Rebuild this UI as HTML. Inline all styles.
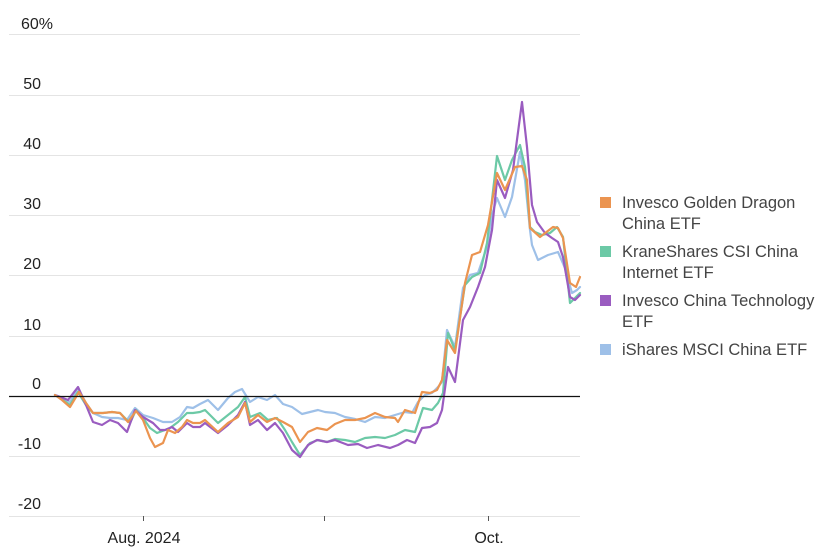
<!DOCTYPE html>
<html>
<head>
<meta charset="utf-8">
<style>
html,body{margin:0;padding:0;background:#fff;}
svg{display:block;}
text{font-family:"Liberation Sans",sans-serif;}
</style>
</head>
<body>
<svg width="831" height="558" viewBox="0 0 831 558" xmlns="http://www.w3.org/2000/svg">
<rect width="831" height="558" fill="#fff"/>
<!-- gridlines -->
<g stroke="#e4e4e4" stroke-width="1">
<line x1="9" x2="580" y1="34.5" y2="34.5"/>
<line x1="9" x2="580" y1="95.5" y2="95.5"/>
<line x1="9" x2="580" y1="155.5" y2="155.5"/>
<line x1="9" x2="580" y1="215.5" y2="215.5"/>
<line x1="9" x2="580" y1="275.5" y2="275.5"/>
<line x1="9" x2="580" y1="336.5" y2="336.5"/>
<line x1="9" x2="580" y1="456.5" y2="456.5"/>
<line x1="9" x2="580" y1="516.5" y2="516.5"/>
</g>
<!-- ticks -->
<g stroke="#555" stroke-width="1">
<line x1="143.5" x2="143.5" y1="516" y2="521"/>
<line x1="324.5" x2="324.5" y1="516" y2="521"/>
<line x1="488.5" x2="488.5" y1="516" y2="521"/>
</g>
<!-- y labels -->
<g font-size="16" fill="#222">
<text x="21" y="29">60%</text>
<text x="41" y="89" text-anchor="end">50</text>
<text x="41" y="149" text-anchor="end">40</text>
<text x="41" y="209" text-anchor="end">30</text>
<text x="41" y="269" text-anchor="end">20</text>
<text x="41" y="330" text-anchor="end">10</text>
<text x="41" y="389" text-anchor="end">0</text>
<text x="41" y="449" text-anchor="end">-10</text>
<text x="41" y="509" text-anchor="end">-20</text>
</g>
<!-- x labels -->
<g font-size="16" fill="#222" text-anchor="middle">
<text x="144" y="543">Aug. 2024</text>
<text x="489" y="543">Oct.</text>
</g>
<!-- series -->
<g fill="none" stroke-width="2.2" stroke-linejoin="round" stroke-linecap="round">
<polyline stroke="#9ec0e8" points="55,395 63,398 70,402 78,388 86,403 93,413 102,417 110,418 118,418 127,420 135,408 143,415 153,418 163,422 172,422 180,417 187,407 193,408 200,404 208,400 218,410 228,398 235,392 242,389 250,402 258,397 267,400 275,395 283,404 292,407 302,414 310,412 318,410 325,412 335,413 345,417 355,419 365,422 375,417 385,418 395,415 405,412 412,413 418,402 425,395 432,393 438,387 442,382 447,330 455,347 463,288 470,275 478,273 487,247 492,215 497,198 505,217 512,197 520,152 525,180 530,230 532,245 538,260 548,255 558,252 565,268 572,293 577,290 580,287"/>
<polyline stroke="#6cc9a6" points="55,395 63,400 70,405 78,392 86,405 93,413 103,413 112,412 120,413 130,423 136,410 143,418 150,428 157,433 165,430 170,428 178,422 187,413 193,413 200,412 205,410 218,423 228,415 238,407 245,397 250,417 260,413 268,420 277,418 285,430 292,442 300,455 310,443 318,440 327,442 335,439 345,440 355,442 365,438 375,437 385,438 395,435 405,430 415,432 423,408 432,410 438,403 443,393 448,333 455,350 465,285 472,277 480,273 487,243 492,200 497,156 505,180 512,160 520,145 525,167 530,227 535,232 542,235 550,233 557,227 563,237 570,303 575,298 580,293"/>
<polyline stroke="#9a5cc0" points="55,395 63,398 68,400 78,387 86,405 93,422 102,425 110,420 118,423 127,432 135,410 143,417 153,423 160,430 165,430 172,427 178,432 187,423 193,427 200,427 205,423 218,433 228,425 238,415 245,402 250,425 258,420 267,430 275,423 283,433 292,450 300,457 308,445 317,440 327,442 335,440 348,445 358,444 367,448 378,445 390,448 398,445 407,440 415,443 422,428 430,427 437,423 442,410 448,367 455,382 463,320 470,307 478,287 485,267 492,230 497,180 505,198 513,170 522,102 527,147 532,205 537,222 545,233 552,238 558,242 563,257 570,297 575,300 580,295"/>
<polyline stroke="#eb9450" points="55,395 62,400 70,407 79,392 86,403 93,413 103,413 112,412 120,413 128,422 136,411 143,420 150,438 155,447 163,443 168,430 175,433 182,427 187,420 193,423 200,423 205,420 218,432 228,423 238,417 245,403 250,422 258,415 267,422 275,418 283,422 292,427 300,442 308,432 317,428 327,430 335,424 345,420 355,420 365,418 375,413 385,417 395,418 398,422 405,410 415,413 422,392 430,393 437,390 442,380 447,340 455,353 465,283 472,255 480,252 488,225 497,173 505,190 515,167 522,166 527,180 530,228 540,237 553,227 558,228 563,238 570,283 576,287 580,277"/>
</g>
<!-- zero line -->
<line x1="9" x2="580" y1="396.5" y2="396.5" stroke="#111" stroke-width="1.3"/>
<!-- legend -->
<g font-size="16.5" fill="#444">
<rect x="600" y="197" width="11" height="11" fill="#eb9450"/>
<text x="622" y="208">Invesco Golden Dragon</text>
<text x="622" y="229">China ETF</text>
<rect x="600" y="246" width="11" height="11" fill="#6cc9a6"/>
<text x="622" y="257">KraneShares CSI China</text>
<text x="622" y="278">Internet ETF</text>
<rect x="600" y="295" width="11" height="11" fill="#9a5cc0"/>
<text x="622" y="306">Invesco China Technology</text>
<text x="622" y="327">ETF</text>
<rect x="600" y="344" width="11" height="11" fill="#9ec0e8"/>
<text x="622" y="355">iShares MSCI China ETF</text>
</g>
</svg>
</body>
</html>
